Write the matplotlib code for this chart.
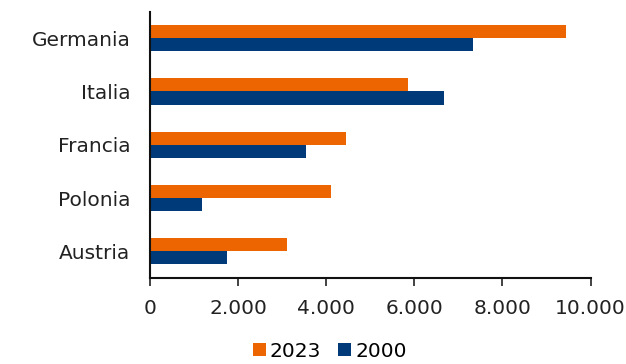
import matplotlib
matplotlib.use("Agg")
import matplotlib.pyplot as plt
import numpy as np
from matplotlib.ticker import FuncFormatter

categories = ["Germania", "Italia", "Francia", "Polonia", "Austria"]
values_2023 = [9450, 5850, 4460, 4120, 3100]
values_2000 = [7340, 6670, 3550, 1190, 1750]
xticks = [0, 2000, 4000, 6000, 8000, 10000]

plt.rcParams['font.family'] = ['DejaVu Sans']

fig = plt.figure(figsize=(6.26, 3.64), dpi=100)
ax = fig.add_axes([0.2396, 0.2363, 0.7037, 0.7321])

y = np.arange(len(categories))
h = 0.245
c23 = '#EC6500'
c00 = '#003A78'
ax.barh(y - h/2, values_2023, height=h, color=c23, label='2023')
ax.barh(y + h/2, values_2000, height=h, color=c00, label='2000')

ax.set_ylim(len(categories) - 0.5, -0.5)
ax.set_xlim(0, 10000)
ax.set_yticks(y)
ax.set_yticklabels(categories, fontsize=14.5, color='#222222')
ax.set_xticks(xticks)
ax.xaxis.set_major_formatter(FuncFormatter(lambda v, p: f"{int(v):,}".replace(",", ".")))
ax.tick_params(axis='x', labelsize=14.5, length=6, width=1.2, pad=9, colors='#222222')
ax.tick_params(axis='y', length=0, pad=14)

for s in ['top', 'right']:
    ax.spines[s].set_visible(False)
for s in ['left', 'bottom']:
    ax.spines[s].set_linewidth(1.5)
    ax.spines[s].set_color('#111111')

fig.legend(loc='center', bbox_to_anchor=(0.527, 0.035), ncol=2, frameon=False,
           fontsize=14.5, handlelength=0.65, handleheight=0.65, handletextpad=0.2,
           columnspacing=0.85, borderpad=0)

fig.savefig('out.png', dpi=100)
